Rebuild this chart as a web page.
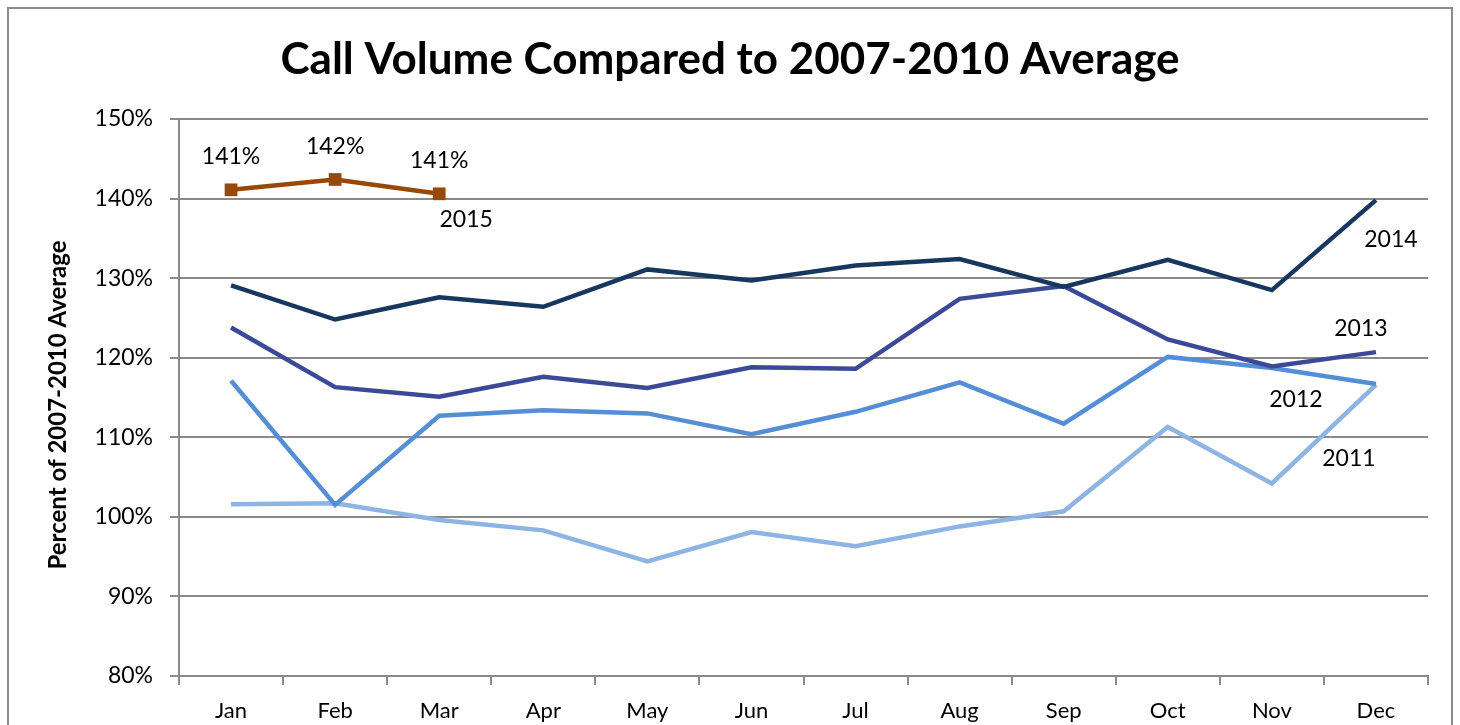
<!DOCTYPE html>
<html>
<head>
<meta charset="utf-8">
<title>Call Volume Compared to 2007-2010 Average</title>
<script src="https://cdn.jsdelivr.net/npm/chart.js@4.4.1/dist/chart.umd.min.js"></script>
<style>
    html, body { margin: 0; padding: 0; background: #fff; }
    #wrap { position: relative; width: 1460px; height: 725px; }
</style>
</head>
<body>
<div id="wrap"><canvas id="callVolume" width="1460" height="725"></canvas></div>
<script>
const months = ['Jan', 'Feb', 'Mar', 'Apr', 'May', 'Jun', 'Jul', 'Aug', 'Sep', 'Oct', 'Nov', 'Dec'];
const y2011 = [101.6, 101.7, 99.6, 98.3, 94.4, 98.1, 96.3, 98.8, 100.7, 111.3, 104.2, 116.6];
const y2012 = [117.1, 101.5, 112.7, 113.4, 113.0, 110.4, 113.2, 116.9, 111.7, 120.1, 118.7, 116.7];
const y2013 = [123.8, 116.3, 115.1, 117.6, 116.2, 118.8, 118.6, 127.4, 129.0, 122.3, 118.9, 120.7];
const y2014 = [129.1, 124.8, 127.6, 126.4, 131.1, 129.7, 131.6, 132.4, 128.9, 132.3, 128.5, 139.8];
const y2015 = [141.1, 142.4, 140.6, null, null, null, null, null, null, null, null, null];
const yTicks = [80, 90, 100, 110, 120, 130, 140, 150];

(function (window) {
    'use strict';

    const FONT = 'Lato, "Open Sans", sans-serif';
    const GRID = '#8a8a8a';

    // where the series name sits, relative to one of its points
    const seriesLabels = {
        '2015': { index: 2, dx: 27, dy: 26 },
        '2014': { index: 11, dx: 15, dy: 39 },
        '2013': { index: 11, dx: -15, dy: -24 },
        '2012': { index: 11, dx: -80, dy: 16 },
        '2011': { index: 11, dx: -27, dy: 74 },
    };

    const decorPlugin = {
        id: 'decor',
        beforeDraw: function (chart) {
            const ctx = chart.ctx;
            ctx.save();
            ctx.fillStyle = '#fff';
            ctx.fillRect(0, 0, chart.width, chart.height);
            ctx.strokeStyle = '#8c8c8c';
            ctx.lineWidth = 2;
            ctx.strokeRect(8, 8, 1444, 760);
            ctx.restore();
        },
        afterDraw: function (chart) {
            const ctx = chart.ctx;
            ctx.save();
            ctx.fillStyle = '#000';
            ctx.textAlign = 'center';
            ctx.textBaseline = 'middle';

            ctx.font = 'bold 44px ' + FONT;
            ctx.fillText('Call Volume Compared to 2007-2010 Average', 730, 60);

            ctx.save();
            ctx.translate(58, 405);
            ctx.rotate(-Math.PI / 2);
            ctx.font = 'bold 24px ' + FONT;
            ctx.fillText('Percent of 2007-2010 Average', 0, 0);
            ctx.restore();

            ctx.font = '23px ' + FONT;
            chart.data.datasets.forEach(function (ds, i) {
                const meta = chart.getDatasetMeta(i);
                if (ds.label === '2015') {
                    meta.data.forEach(function (pt, j) {
                        if (ds.data[j] == null) {
                            return;
                        }
                        ctx.fillText(Math.round(ds.data[j]) + '%', pt.x, pt.y - 33);
                    });
                }
                const pos = seriesLabels[ds.label];
                if (pos) {
                    const p = meta.data[pos.index];
                    ctx.fillText(ds.label, p.x + pos.dx, p.y + pos.dy);
                }
            });
            ctx.restore();
        },
    };

    function series(label, data, color, withMarkers) {
        return {
            label: label,
            data: data,
            borderColor: color,
            backgroundColor: color,
            borderWidth: 4.5,
            tension: 0,
            spanGaps: false,
            pointStyle: 'rect',
            pointRadius: withMarkers ? 9 : 0,
            pointHoverRadius: withMarkers ? 9 : 0,
            pointBorderWidth: 0,
        };
    }

    new window.Chart(document.getElementById('callVolume'), {
        type: 'line',
        data: {
            labels: months,
            datasets: [
                series('2015', y2015, '#984807', true),
                series('2014', y2014, '#17375e', false),
                series('2013', y2013, '#3b4a96', false),
                series('2012', y2012, '#558ed5', false),
                series('2011', y2011, '#8db4e2', false),
            ],
        },
        options: {
            responsive: false,
            animation: false,
            layout: { padding: { top: 119, right: 32, bottom: 0, left: 0 } },
            plugins: {
                legend: { display: false },
                title: { display: false },
                tooltip: { enabled: false },
            },
            scales: {
                x: {
                    offset: true,
                    afterFit: function (scale) { scale.height = 49; },
                    grid: {
                        offset: true,
                        drawOnChartArea: false,
                        drawTicks: true,
                        tickLength: 9,
                        color: GRID,
                        lineWidth: 2,
                    },
                    border: { color: GRID, width: 2 },
                    ticks: {
                        color: '#000',
                        padding: 13,
                        font: { family: FONT, size: 22 },
                    },
                },
                y: {
                    min: 80,
                    max: 150,
                    afterFit: function (scale) { scale.width = 179; },
                    afterBuildTicks: function (scale) {
                        scale.ticks = yTicks.map(function (v) { return { value: v }; });
                    },
                    grid: {
                        color: GRID,
                        lineWidth: 2,
                        drawTicks: true,
                        tickLength: 9,
                    },
                    border: { color: GRID, width: 2 },
                    ticks: {
                        color: '#000',
                        padding: 17,
                        font: { family: FONT, size: 23 },
                        callback: function (v) { return v + '%'; },
                    },
                },
            },
        },
        plugins: [decorPlugin],
    });
})(window);
</script>
</body>
</html>
